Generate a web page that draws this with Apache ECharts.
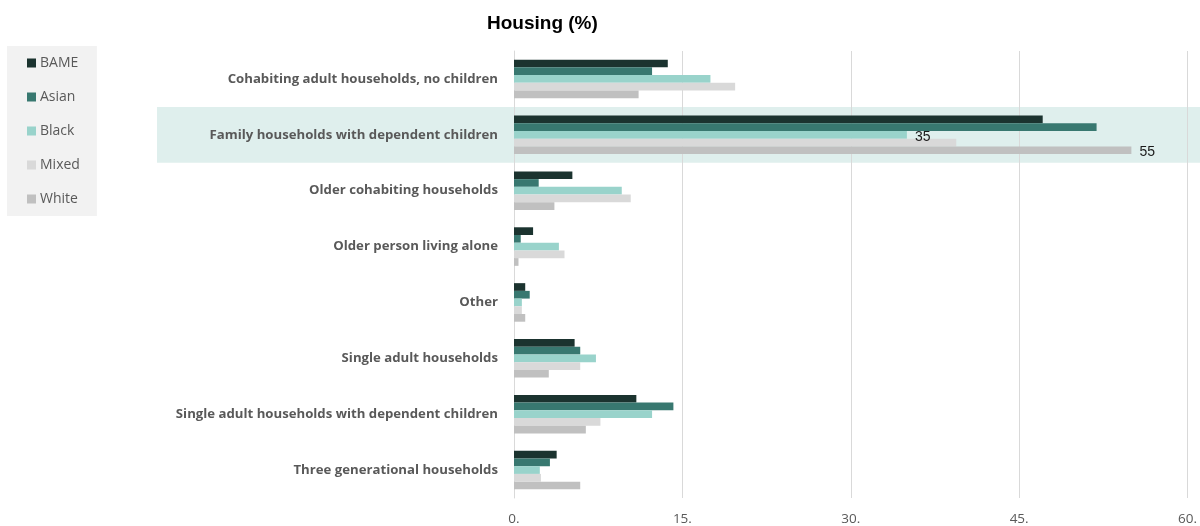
<!DOCTYPE html>
<html>
<head>
<meta charset="utf-8">
<title>Housing (%)</title>
<script src="https://cdn.jsdelivr.net/npm/echarts@6/dist/echarts.min.js"></script>
<style>
  html, body { margin: 0; padding: 0; background: #ffffff; }
  #chart { width: 1200px; height: 526px; }
</style>
</head>
<body>
<div id="chart"></div>
<script>
// Household types, listed top to bottom
const categories = [
  'Cohabiting adult households, no children',
  'Family households with dependent children',
  'Older cohabiting households',
  'Older person living alone',
  'Other',
  'Single adult households',
  'Single adult households with dependent children',
  'Three generational households'
];

// Share of each group (%) per household type
const bame  = [13.7, 47.1, 5.2, 1.7, 1.0, 5.4, 10.9, 3.8];
const asian = [12.3, 51.9, 2.2, 0.6, 1.4, 5.9, 14.2, 3.2];
const black = [17.5, 35,   9.6, 4.0, 0.7, 7.3, 12.3, 2.3];
const mixed = [19.7, 39.4, 10.4, 4.5, 0.7, 5.9, 7.7, 2.4];
const white = [11.1, 55,   3.6, 0.4, 1.0, 3.1, 6.4, 5.9];

const seriesNames = ['BAME', 'Asian', 'Black', 'Mixed', 'White'];
const seriesValues = [bame, asian, black, mixed, white];
const seriesColors = ['#1b332f', '#387870', '#99d3cb', '#d9d9d9', '#c0c0c0'];

// Value labels shown on selected bars: series name -> category indices
const labelledPoints = { Black: [1], White: [1] };

// X axis ticks
const xTicks = [0, 15, 30, 45, 60];

// Highlighted household type
const highlightCategory = 'Family households with dependent children';

const chart = echarts.init(document.getElementById('chart'), null, { renderer: 'canvas' });

const series = seriesNames.map((name, si) => ({
  name: name,
  type: 'bar',
  barGap: '0%',
  barCategoryGap: '31%',
  itemStyle: { color: seriesColors[si] },
  data: seriesValues[si].map((v, ci) => {
    const showLabel = (labelledPoints[name] || []).indexOf(ci) >= 0;
    return showLabel ? {
      value: v,
      label: {
        show: true,
        position: 'right',
        distance: 8,
        offset: [0, 2],
        color: '#1a1a1a',
        fontSize: 14,
        fontFamily: 'Liberation Sans, Arial, sans-serif',
        formatter: (p) => String(Math.round(p.value))
      }
    } : v;
  })
}));

const option = {
  animation: false,
  backgroundColor: '#ffffff',
  title: {
    text: 'Housing (%)',
    left: 482,
    top: 9,
    textStyle: {
      fontFamily: 'Liberation Sans, Arial, sans-serif',
      fontWeight: 'bold',
      fontSize: 19,
      color: '#000000'
    }
  },
  legend: {
    orient: 'vertical',
    left: 7,
    top: 46,
    width: 90,
    padding: [10, 17, 10, 20],
    backgroundColor: '#f2f2f2',
    itemWidth: 9,
    itemHeight: 9,
    itemGap: 20,
    icon: 'rect',
    textStyle: {
      fontFamily: 'Open Sans, Liberation Sans, sans-serif',
      fontSize: 14,
      color: '#595959',
      padding: [0, 0, 0, -1],
      lineHeight: 14
    },
    data: seriesNames
  },
  grid: {
    left: 514,
    right: 12,
    top: 51,
    bottom: 28,
    containLabel: false
  },
  xAxis: {
    type: 'value',
    min: xTicks[0],
    max: xTicks[xTicks.length - 1],
    interval: xTicks[1] - xTicks[0],
    axisLine: { show: false },
    axisTick: { show: false },
    axisLabel: {
      color: '#595959',
      fontSize: 13.5,
      margin: 14,
      fontFamily: 'Open Sans, Liberation Sans, sans-serif',
      formatter: (v) => v + '.'
    },
    splitLine: { lineStyle: { color: '#d9d9d9', width: 1 } }
  },
  yAxis: {
    type: 'category',
    inverse: true,
    data: categories,
    axisLine: { show: true, lineStyle: { color: '#d9d9d9', width: 1 } },
    axisTick: { show: false },
    axisLabel: {
      color: '#595959',
      fontSize: 13.2,
      fontWeight: 'bold',
      margin: 16,
      fontFamily: 'Open Sans, Liberation Sans, sans-serif'
    }
  },
  series: series
};

chart.setOption(option);

// Shaded band behind the highlighted household type, spanning label and plot area
function drawHighlight() {
  const center = chart.convertToPixel({ yAxisIndex: 0 }, highlightCategory);
  const next = chart.convertToPixel({ yAxisIndex: 0 }, categories[categories.indexOf(highlightCategory) + 1]);
  const band = Math.abs(next - center);
  chart.setOption({
    graphic: [{
      type: 'rect',
      z: -10,
      silent: true,
      shape: { x: 157, y: center - band / 2, width: 1200 - 157, height: band },
      style: { fill: '#dfefed' }
    }]
  });
}
drawHighlight();
</script>
</body>
</html>
